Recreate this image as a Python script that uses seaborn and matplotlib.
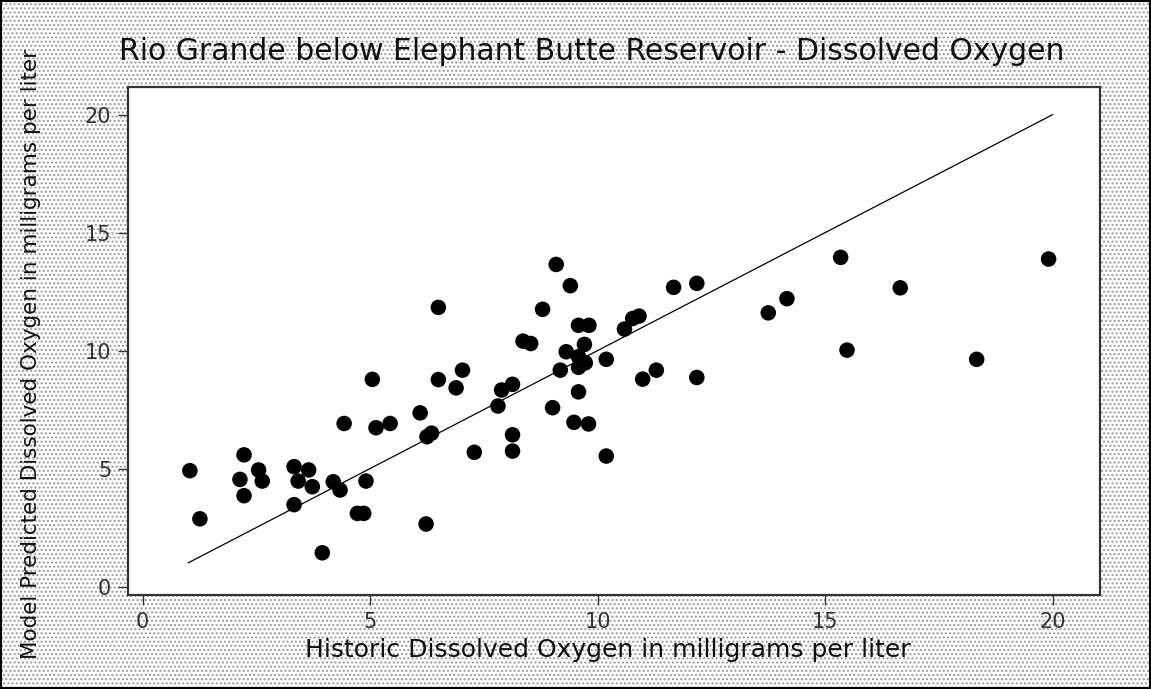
import matplotlib
matplotlib.use("Agg")
import matplotlib.pyplot as plt
from matplotlib.patches import Rectangle
import numpy as np
import pandas as pd
import seaborn as sns

# historic vs model predicted dissolved oxygen (mg/L)
historic = [
    1.04, 1.26, 2.23, 2.14, 2.23, 2.55, 2.63, 3.33, 3.65, 3.42,
    3.73, 3.33, 3.95, 4.19, 4.34, 4.43, 4.91, 4.72, 4.86, 5.05,
    5.13, 5.44, 6.10, 6.25, 6.35, 6.23, 6.50, 6.50, 6.89, 7.03,
    7.29, 7.81, 7.89, 8.13, 8.13, 8.13, 8.36, 8.53, 8.79, 9.01,
    9.09, 9.40, 9.18, 9.31, 9.58, 9.81, 9.71, 9.58, 9.73, 9.58,
    9.58, 9.48, 9.80, 10.19, 10.19, 10.59, 10.77, 10.91, 10.99, 11.29,
    11.67, 12.18, 12.18, 13.75, 14.16, 15.34, 15.48, 16.65, 18.33, 19.91,
]
predicted = [
    4.91, 2.87, 5.58, 4.54, 3.85, 4.94, 4.47, 5.08, 4.94, 4.47,
    4.23, 3.47, 1.43, 4.44, 4.09, 6.91, 4.47, 3.10, 3.10, 8.78,
    6.73, 6.91, 7.36, 6.35, 6.50, 2.65, 11.83, 8.77, 8.42, 9.17,
    5.69, 7.65, 8.33, 8.57, 6.43, 5.74, 10.40, 10.30, 11.75, 7.58,
    13.65, 12.75, 9.17, 9.95, 11.07, 11.07, 10.26, 9.74, 9.48, 9.29,
    8.25, 6.96, 6.89, 9.63, 5.53, 10.91, 11.36, 11.46, 8.79, 9.17,
    12.68, 12.85, 8.86, 11.60, 12.20, 13.95, 10.02, 12.66, 9.63, 13.88,
]
ticks = [0, 5, 10, 15, 20]

title = "Rio Grande below Elephant Butte Reservoir - Dissolved Oxygen"
xlabel = "Historic Dissolved Oxygen in milligrams per liter"
ylabel = "Model Predicted Dissolved Oxygen in milligrams per liter"

df = pd.DataFrame({"historic": historic, "predicted": predicted})
# 1:1 line over the span of the historic values
lo, hi = np.floor(min(historic)), np.ceil(max(historic))
line = pd.DataFrame({"x": [lo, hi], "y": [lo, hi]})

sns.set_theme(style="ticks")
plt.rcParams["font.family"] = ["DejaVu Sans"]

fig = plt.figure(figsize=(11.51, 6.89), dpi=100)
fig.patch.set_facecolor("white")

# stippled background of the whole graph region
bg = Rectangle((0, 0), 1, 1, transform=fig.transFigure, facecolor="white",
               edgecolor="#999999", hatch="....", linewidth=0, zorder=-10)
fig.patches.append(bg)
border = Rectangle((0.001, 0.001), 0.998, 0.997, transform=fig.transFigure,
                   facecolor="none", edgecolor="black", linewidth=1.5, zorder=10)
fig.patches.append(border)

ax = fig.add_axes([0.1112, 0.1364, 0.8445, 0.7373])
ax.set_facecolor("white")

sns.lineplot(data=line, x="x", y="y", color="black", linewidth=0.9, ax=ax)
sns.scatterplot(data=df, x="historic", y="predicted", color="black",
                s=125, edgecolor="none", ax=ax, zorder=3)

ax.set_xlim(-0.32, 21.04)
ax.set_ylim(-0.36, 21.17)
ax.set_xticks(ticks)
ax.set_yticks(ticks)
ax.tick_params(direction="out", length=7, width=1, colors="#333333",
               labelsize=15, pad=5)
for s in ax.spines.values():
    s.set_visible(True)
    s.set_color("#333333")
    s.set_linewidth(1.6)
ax.set_xlabel("")
ax.set_ylabel("")

fig.text(0.514, 0.925, title, ha="center", va="center", fontsize=21.5,
         color="#111111")
fig.text(0.528, 0.056, xlabel, ha="center", va="center", fontsize=18,
         color="#111111")
fig.text(0.027, 0.487, ylabel, ha="center", va="center", fontsize=15.5,
         rotation=90, color="#111111")

fig.savefig("out.png", dpi=100)
